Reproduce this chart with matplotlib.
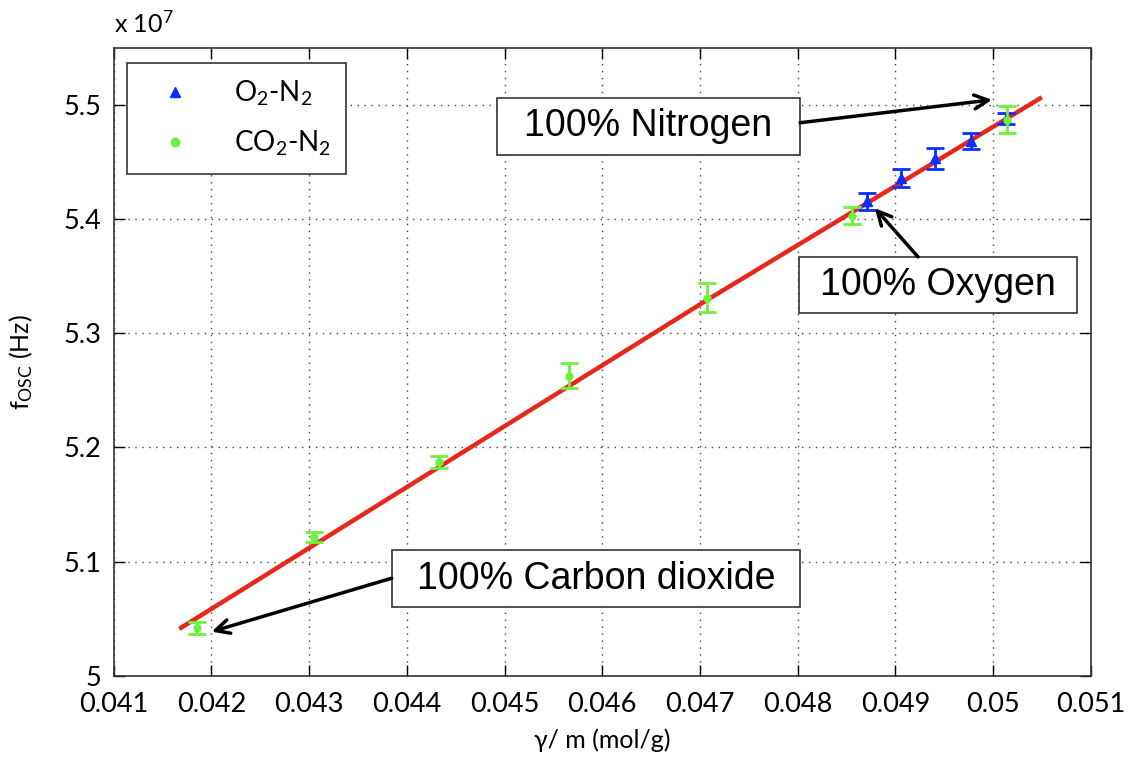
import matplotlib.pyplot as plt
from matplotlib.patches import Rectangle

plt.rcParams['font.family'] = ['Lato', 'DejaVu Sans']
plt.rcParams['mathtext.default'] = 'regular'

# gamma/m (mol/g) and f_osc (x 1e7 Hz)
co2_x = [0.04185, 0.04305, 0.04433, 0.04566, 0.04707, 0.04856, 0.05014]
co2_y = [5.0416, 5.1218, 5.1871, 5.2630, 5.3313, 5.4032, 5.4871]
co2_err = [0.005, 0.0045, 0.0055, 0.011, 0.013, 0.0076, 0.012]

o2_x = [0.04871, 0.04906, 0.04941, 0.04977, 0.05013]
o2_y = [5.4155, 5.4360, 5.4535, 5.4687, 5.4880]
o2_err = [0.0075, 0.0079, 0.0092, 0.007, 0.005]

fit_x = [0.04169, 0.04707, 0.05048]
fit_y = [5.042, 5.329, 5.5058]

xticks = [0.041, 0.042, 0.043, 0.044, 0.045, 0.046, 0.047, 0.048, 0.049, 0.05, 0.051]
xticklabels = ['0.041', '0.042', '0.043', '0.044', '0.045', '0.046', '0.047', '0.048', '0.049', '0.05', '0.051']
yticks = [5.0, 5.1, 5.2, 5.3, 5.4, 5.5]
yticklabels = ['5', '5.1', '5.2', '5.3', '5.4', '5.5']

blue = '#0a2eff'
green = '#6cf23a'

fig = plt.figure(figsize=(11.35, 7.58), dpi=100)
ax = fig.add_axes([0.1002, 0.1086, 0.8608, 0.8281])

ax.plot(fit_x, fit_y, color='#e8261c', lw=3.2, zorder=2)

ax.errorbar(o2_x, o2_y, yerr=o2_err, fmt='^', color=blue, ms=7, capsize=6.5,
            elinewidth=2, capthick=2, zorder=3)
ax.errorbar(co2_x, co2_y, yerr=co2_err, fmt='o', color=green, ms=5, capsize=6.5,
            elinewidth=2, capthick=2, zorder=4)

ax.set_xlim(0.041, 0.051)
ax.set_ylim(5.0, 5.55)
ax.set_xticks(xticks)
ax.set_xticklabels(xticklabels)
ax.set_yticks(yticks)
ax.set_yticklabels(yticklabels)
ax.tick_params(direction='in', length=8, width=1, top=True, right=True, labelsize=19.5)
ax.tick_params(axis='x', pad=12)
ax.tick_params(axis='y', pad=9)
ax.grid(True, linestyle=(0, (1, 4)), color='#444444', lw=1)
for s in ax.spines.values():
    s.set_color('#333333')
    s.set_linewidth(1.2)

ax.set_xlabel('γ/ m (mol/g)', fontsize=18, labelpad=8)
ax.set_ylabel('f$_{OSC}$ (Hz)', fontsize=18, labelpad=20)
ax.text(0.0, 1.018, 'x 10$^7$', transform=ax.transAxes, fontsize=18, va='bottom')

# legend without errorbars
handles = [plt.Line2D([], [], ls='none', marker='^', color=blue, ms=7),
           plt.Line2D([], [], ls='none', marker='o', color=green, ms=6)]
leg = ax.legend(handles, ['O$_2$-N$_2$', 'CO$_2$-N$_2$'], loc='upper left',
                bbox_to_anchor=(0.0133, 0.9756), borderaxespad=0, fontsize=20,
                fancybox=False, edgecolor='#333333', framealpha=1,
                handlelength=2.4, handletextpad=0.9, borderpad=0.55, labelspacing=0.75)
leg.get_frame().set_linewidth(1.2)

# annotation boxes (x0, x1, y0, y1 in data units) and arrows
txt_kw = dict(fontsize=27, family='Liberation Sans', ha='center', va='center', zorder=7)
arr = dict(arrowstyle='->', color='black', lw=2.5, mutation_scale=25, shrinkA=0, shrinkB=0)


def label_box(text, x0, x1, y0, y1, tail, tip):
    ax.add_patch(Rectangle((x0, y0), x1 - x0, y1 - y0, fc='white', ec='#333333',
                           lw=1.2, zorder=6))
    ax.text((x0 + x1) / 2, (y0 + y1) / 2, text, **txt_kw)
    ax.annotate('', xy=tip, xytext=tail, arrowprops=arr, zorder=8)


label_box('100% Nitrogen', 0.044923, 0.048025, 5.4564, 5.5064,
          (0.048025, 5.4845), (0.04999, 5.5046))
label_box('100% Oxygen', 0.048017, 0.050857, 5.318, 5.367,
          (0.049232, 5.367), (0.04879, 5.4097))
label_box('100% Carbon dioxide', 0.043845, 0.048025, 5.060, 5.1102,
          (0.043845, 5.0854), (0.042003, 5.0386))

fig.savefig('out.png', dpi=100)
